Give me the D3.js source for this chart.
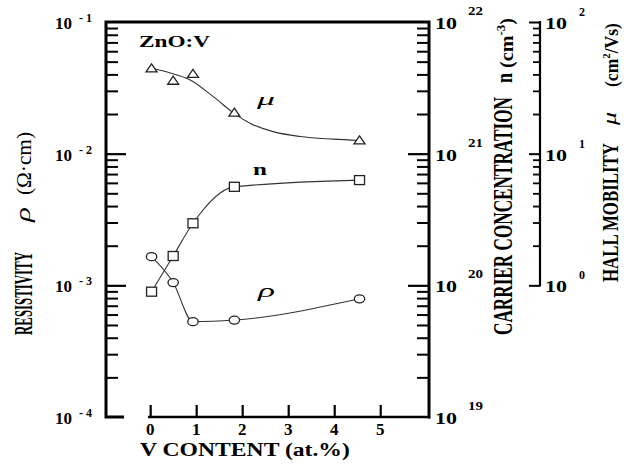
<!DOCTYPE html>
<html>
<head>
<meta charset="utf-8">
<script src="https://cdn.jsdelivr.net/npm/d3@7"></script>
<style>
  body { margin: 0; background: #fff; }
  text { font-family: "Liberation Serif", "Times New Roman", serif; fill: #000; }
</style>
</head>
<body>
<svg id="chart" width="624" height="472"></svg>
<script>
// V content of the ZnO:V films (at.%)
const vContent = [0.03, 0.5, 0.93, 1.83, 4.55];
// Resistivity rho (ohm·cm)
const resistivity = [1.65e-3, 1.05e-3, 5.3e-4, 5.45e-4, 7.9e-4];
// Carrier concentration n (cm^-3)
const carrierConc = [8.95e19, 1.67e20, 2.96e20, 5.6e20, 6.3e20];
// Hall mobility mu (cm^2/Vs)
const hallMobility = [44.5, 35.8, 40.3, 20.5, 12.6];
// Smoothed trend line drawn through the mobility points
const mobilityTrendX = [0.03, 0.58, 0.87, 1.37, 1.87, 2.17, 2.67, 3.26, 3.98, 4.55];
const mobilityTrend = [44.5, 39.6, 36.3, 27.1, 19.7, 17.0, 14.7, 13.5, 12.9, 12.6];

// Axis ticks
const xTicks = [0, 1, 2, 3, 4, 5];
const rhoDecades = [1e-4, 1e-3, 1e-2, 1e-1];
const nDecades = [1e19, 1e20, 1e21, 1e22];
const muDecades = [1, 10, 100];

const svg = d3.select("#chart");

const x = d3.scaleLinear().domain([-0.96, 6.06]).range([106, 429]);
const yRho = d3.scaleLog().domain([1e-4, 1e-1]).range([417, 22]);
const yN = d3.scaleLog().domain([1e19, 1e22]).range([417, 22]);
const yMu = d3.scaleLog().domain([1, 100]).range([22 + 2 * 395 / 3, 22]);

const exponent = v => String(Math.round(Math.log10(v)));
function minorTicks(decades) {
  const out = [];
  decades.slice(0, -1).forEach(d => { for (let k = 2; k <= 9; k++) out.push(k * d); });
  return out;
}

// ---------- frame ----------
const frame = svg.append("g").attr("stroke", "#000").attr("fill", "none").attr("stroke-linecap", "square");
frame.append("path").attr("stroke-width", 3)
  .attr("d", `M${x(-0.6)},${yRho(1e-4)} H${x.range()[0]} V${yRho(1e-1)} H${x.range()[1]} V${yRho(1e-4)}`);
frame.append("line").attr("stroke-width", 2.5)
  .attr("x1", x(0) - 1).attr("x2", x.range()[1]).attr("y1", yRho(1e-4)).attr("y2", yRho(1e-4));
// mobility axis spine
frame.append("line").attr("stroke-width", 2.2)
  .attr("x1", 540).attr("x2", 540).attr("y1", yMu(100)).attr("y2", yMu(1));

// ---------- ticks ----------
function ticks(g, axis, values, size, width) {
  g.call(axis.tickValues(values).tickSize(size).tickFormat(""));
  g.select(".domain").remove();
  g.selectAll(".tick line").attr("stroke", "#000").attr("stroke-width", width);
}
const left = svg.append("g").attr("transform", "translate(106,0)");
ticks(left.append("g"), d3.axisRight(yRho), minorTicks(rhoDecades), 12, 2);
ticks(left.append("g"), d3.axisRight(yRho), rhoDecades.slice(1, -1), 20, 2.2);

const right = svg.append("g").attr("transform", "translate(429,0)");
ticks(right.append("g"), d3.axisLeft(yN), minorTicks(nDecades), 12, 2);
ticks(right.append("g"), d3.axisLeft(yN), nDecades.slice(1, -1), 21, 2.2);

const mob = svg.append("g").attr("transform", "translate(540,0)");
ticks(mob.append("g"), d3.axisLeft(yMu), minorTicks(muDecades), 7, 1.8);
ticks(mob.append("g"), d3.axisLeft(yMu), muDecades, 11, 2);

const bottom = svg.append("g").attr("transform", `translate(0,${yRho(1e-4)})`);
ticks(bottom.append("g"), d3.axisTop(x), xTicks, 12, 2.2);

// ---------- text helpers ----------
// Places a text at (px, py), optionally rotated, and scales it along its
// baseline so that it spans `len` pixels.
function label(px, py, size, len, opts = {}) {
  const g = svg.append("g");
  const t = g.append("text").attr("font-size", size)
    .attr("font-weight", opts.weight || "bold")
    .attr("font-style", opts.style || "normal")
    .attr("text-anchor", opts.anchor || "start");
  g.fit = () => {
    const nat = t.node().getComputedTextLength();
    const s = len && nat > 0 ? len / nat : 1;
    g.attr("transform", `translate(${px},${py})${opts.vertical ? " rotate(-90)" : ""} scale(${s},1)`);
    return g;
  };
  g.t = t;
  return g;
}
function simple(px, py, str, size, len, opts) {
  const g = label(px, py, size, len, opts);
  g.t.text(str);
  return g.fit();
}

// ---------- tick labels ----------
function decadeLabels(values, scale, x10, xSup, supDy, width10, widthSup) {
  values.forEach(v => {
    simple(x10, scale(v) + 7, "10", 17, width10);
    const e = exponent(v);
    simple(xSup, scale(v) + supDy, e.replace("-", "- "), 11.5, widthSup * e.length / 2);
  });
}
decadeLabels(rhoDecades, yRho, 55, 79, 0, 17, 13);
decadeLabels(nDecades, yN, 435, 468, -7, 22, 15);
decadeLabels(muDecades, yMu, 545, 579, -6, 22, 12);

xTicks.forEach(d => simple(x(d), 435, String(d), 17, 0, { anchor: "middle" }));

// ---------- titles ----------
simple(139, 46.5, "ZnO:V", 16, 71);
simple(140, 456, "V CONTENT (at.%)", 19, 210);

// left axis title
simple(32, 335, "RESISTIVITY", 25, 83, { vertical: true });
simple(30, 222, "ρ", 20, 15, { vertical: true, weight: "normal", style: "italic" });
simple(31, 195, "(Ω·cm)", 20, 63, { vertical: true, weight: "normal" });

// carrier concentration title
simple(512, 335, "CARRIER CONCENTRATION", 27, 238, { vertical: true });
simple(512, 83, "n", 24, 10, { vertical: true });
const cmN = label(513, 68, 19, 50, { vertical: true });
cmN.t.append("tspan").text("(cm");
cmN.t.append("tspan").attr("font-size", 12).attr("dy", -8).text("-3");
cmN.t.append("tspan").attr("dy", 8).text(")");
cmN.fit();

// mobility title
simple(618, 282, "HALL MOBILITY", 24, 139, { vertical: true });
simple(616, 125, "μ", 19, 13, { vertical: true, weight: "normal", style: "italic" });
const cmMu = label(618, 87, 18, 64, { vertical: true });
cmMu.t.append("tspan").text("(cm");
cmMu.t.append("tspan").attr("font-size", 11).attr("dy", -8).text("2");
cmMu.t.append("tspan").attr("dy", 8).text("/Vs)");
cmMu.fit();

// in-plot series labels
simple(257, 105, "μ", 16, 18, { weight: "normal", style: "italic" });
simple(253, 175, "n", 17, 14);
simple(258, 297, "ρ", 18, 17, { weight: "normal", style: "italic" });

// ---------- curves ----------
const lines = svg.append("g").attr("fill", "none").attr("stroke", "#333").attr("stroke-width", 1.1);
const rhoPts = vContent.map((v, i) => [v, resistivity[i]]);
const nPts = vContent.map((v, i) => [v, carrierConc[i]]);
const muPts = vContent.map((v, i) => [v, hallMobility[i]]);
const muTrendPts = mobilityTrendX.map((v, i) => [v, mobilityTrend[i]]);

lines.append("path").attr("d", d3.line().x(d => x(d[0])).y(d => yRho(d[1])).curve(d3.curveMonotoneX)(rhoPts));
lines.append("path").attr("d", d3.line().x(d => x(d[0])).y(d => yN(d[1])).curve(d3.curveMonotoneX)(nPts));
lines.append("path").attr("d", d3.line().x(d => x(d[0])).y(d => yMu(d[1])).curve(d3.curveMonotoneX)(muTrendPts));

// ---------- markers ----------
const marks = svg.append("g").attr("fill", "#fff").attr("stroke", "#222").attr("stroke-width", 1.3);
marks.selectAll(".rho").data(rhoPts).join("ellipse").attr("class", "rho")
  .attr("cx", d => x(d[0])).attr("cy", d => yRho(d[1])).attr("rx", 5.2).attr("ry", 4);
marks.selectAll(".n").data(nPts).join("rect").attr("class", "n")
  .attr("x", d => x(d[0]) - 5).attr("y", d => yN(d[1]) - 4.5).attr("width", 10).attr("height", 9);
marks.selectAll(".mu").data(muPts).join("path").attr("class", "mu")
  .attr("d", d => {
    const cx = x(d[0]), cy = yMu(d[1]);
    return `M${cx},${cy - 4.5} L${cx + 5.5},${cy + 3.5} L${cx - 5.5},${cy + 3.5} Z`;
  });
</script>
</body>
</html>
